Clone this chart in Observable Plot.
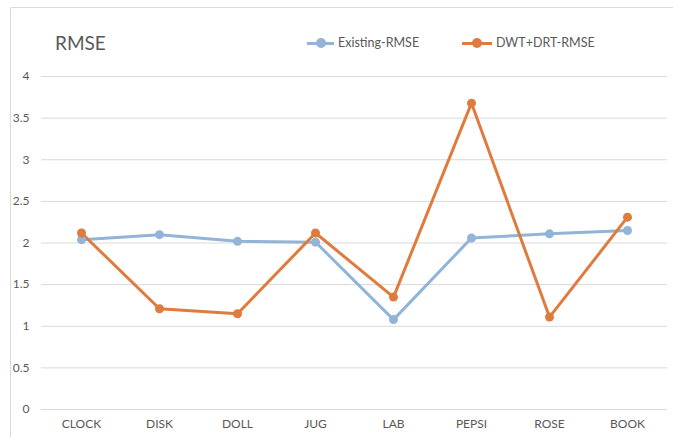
<!DOCTYPE html>
<html>
<head>
<meta charset="utf-8">
<script src="https://cdn.jsdelivr.net/npm/d3@7"></script>
<script src="https://cdn.jsdelivr.net/npm/@observablehq/plot@0.6"></script>
<style>
  html, body { margin: 0; background: #fff; overflow: hidden; font-family: Lato, "Open Sans", sans-serif; color: #595959; }
  #frame { position: absolute; left: 10px; top: 7px; width: 663px; height: 430px; border-left: 1px solid #d9d9d9; border-top: 1px solid #d9d9d9; border-top-left-radius: 2px; box-sizing: border-box; }
  #chart { position: absolute; left: 0; top: 0; width: 673px; }
  #header { position: relative; height: 60px; }
  #title { position: absolute; left: 55px; top: 33px; font-size: 19px; line-height: 20px; }
  .item { position: absolute; top: 36px; height: 14px; font-size: 12.5px; line-height: 14px; }
  .sw { position: absolute; top: 5.5px; height: 3px; }
  .dot { position: absolute; top: -3.5px; width: 10px; height: 10px; border-radius: 50%; }
  .lbl { position: absolute; top: 0; white-space: nowrap; }
</style>
</head>
<body>
<div id="frame"></div>
<div id="chart">
  <div id="header">
    <div id="title">RMSE</div>
    <div id="legend"></div>
  </div>
</div>
<script>
const categories = ["CLOCK", "DISK", "DOLL", "JUG", "LAB", "PEPSI", "ROSE", "BOOK"];
const existingRMSE = [2.04, 2.10, 2.02, 2.01, 1.08, 2.06, 2.11, 2.15];
const dwtDrtRMSE = [2.12, 1.21, 1.15, 2.12, 1.35, 3.68, 1.11, 2.31];
const seriesNames = ["Existing-RMSE", "DWT+DRT-RMSE"];
const seriesColors = ["#92b4d6", "#e07b3e"];
const yTicks = [0, 0.5, 1, 1.5, 2, 2.5, 3, 3.5, 4];

const table = [];
categories.forEach((c, i) => {
  table.push({cat: c, value: existingRMSE[i], series: seriesNames[0]});
  table.push({cat: c, value: dwtDrtRMSE[i], series: seriesNames[1]});
});

// Legend
const legend = document.getElementById("legend");
const legendPos = [{sw: 307, w: 27, text: 338}, {sw: 462, w: 30, text: 496}];
seriesNames.forEach((name, i) => {
  const p = legendPos[i];
  const item = document.createElement("div");
  item.className = "item";
  item.style.left = "0px";
  item.innerHTML =
    `<div class="sw" style="left:${p.sw}px;width:${p.w}px;background:${seriesColors[i]}"><div class="dot" style="left:${p.w / 2 - 5}px;background:${seriesColors[i]}"></div></div>` +
    `<div class="lbl" style="left:${p.text}px">${name}</div>`;
  legend.appendChild(item);
});

const chart = Plot.plot({
  width: 673,
  height: 377,
  marginTop: 16,
  marginBottom: 28,
  marginLeft: 41,
  marginRight: 6,
  style: {fontFamily: "Lato, 'Open Sans', sans-serif", color: "#595959", background: "transparent", overflow: "visible"},
  x: {type: "point", domain: categories, padding: 0.5, label: null},
  y: {domain: [0, 4], label: null},
  color: {domain: seriesNames, range: seriesColors},
  marks: [
    Plot.ruleY(yTicks, {stroke: "#d9d9d9", strokeWidth: 1}),
    Plot.axisY({ticks: yTicks, tickSize: 0, tickPadding: 12, fontSize: 12, label: null, tickFormat: d => String(d)}),
    Plot.axisX({tickSize: 0, tickPadding: 10, fontSize: 12, label: null}),
    Plot.line(table, {x: "cat", y: "value", stroke: "series", strokeWidth: 3, strokeLinejoin: "round"}),
    Plot.dot(table, {x: "cat", y: "value", fill: "series", r: 4.5, stroke: "none"})
  ]
});
document.getElementById("chart").appendChild(chart);
</script>
</body>
</html>
